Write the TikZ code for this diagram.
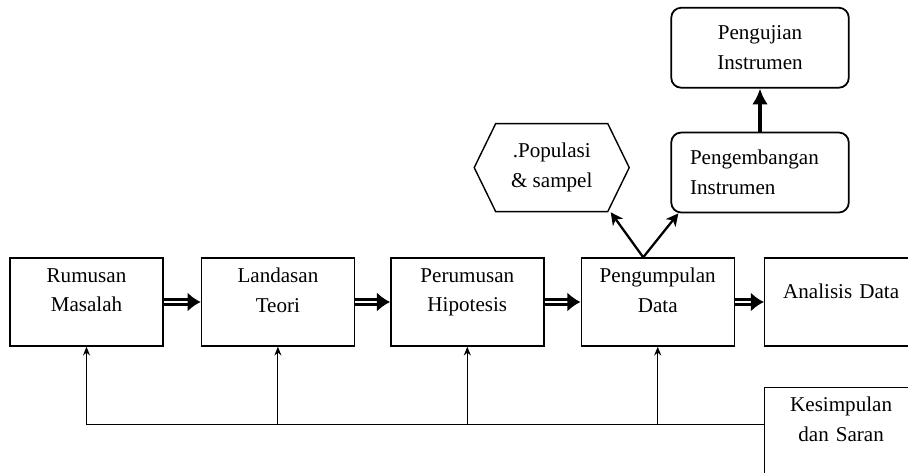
\documentclass[tikz,border=0pt]{standalone}
\usepackage{fontspec}
\setmainfont{Liberation Serif}
\usepackage{tikz}
\usetikzlibrary{positioning}
\usetikzlibrary{shapes}
\usetikzlibrary{calc}
\usetikzlibrary{arrows.meta}
\tikzset{>=latex}

\begin{document}
\begin{tikzpicture}[
            stage/.style={rectangle, draw, line width=0.8pt, text width=2.9cm, align=center, inner xsep=0.08cm, inner ysep=5.5pt, minimum height=1.76cm, text depth=30.5pt},
            hexa/.style={signal, signal to=west and east, signal pointer angle=128, draw, line width=0.8pt, minimum width=3.1cm, minimum height=1.76cm, align=center},
            rbox/.style={rectangle, rounded corners=0.2cm, draw, line width=1pt, minimum width=3.55cm, minimum height=1.6cm, text width=2.8cm, align=center},
            flow/.style={double, double distance=1.6pt, line width=1.3pt, -{Latex[length=7.5pt, width=11pt]}},
            fork/.style={line width=1.3pt, -{Stealth[length=7pt, width=7pt, inset=2pt]}},
            lift/.style={line width=2.4pt, -{Latex[length=9pt, width=9pt]}},
            back/.style={line width=0.6pt, -{Stealth[length=5pt, width=4pt]}},
            font=\fontsize{12}{17}\selectfont
        ]
        \clip (0,0) rectangle (18.16,-9.44);
        \node[stage] (rumusan) at (1.73, -6.04) {Rumusan\\Masalah};
        \node[stage, right = 0.74cm of rumusan] (landasan) {Landasan\\Teori};
        \node[stage, right = 0.70cm of landasan] (perumusan) {Perumusan\\Hipotesis};
        \node[stage, right = 0.72cm of perumusan] (pengumpulan) {Pengumpulan\\Data};
        \node[stage, right = 0.58cm of pengumpulan, text height=17pt, text depth=21.5pt] (analisis) {Analisis Data};
        \node[stage, below = 0.8cm of analisis] (kesimpulan) {Kesimpulan\\dan Saran};
        \draw[flow] (rumusan) -- (landasan);
        \draw[flow] (landasan) -- (perumusan);
        \draw[flow] (perumusan) -- (pengumpulan);
        \draw[flow] (pengumpulan) -- (analisis);
        \node[hexa, above = 0.9cm of pengumpulan, xshift=-2.12cm] (populasi) {.Populasi\\\& sampel};
        \node[rbox, align=left] (pengembangan) at (15.2, -3.45) {Pengembangan\\Instrumen};
        \node[rbox, above = 0.86cm of pengembangan] (pengujian) {Pengujian\\Instrumen};
        \coordinate (split) at ($(pengumpulan.north)+(-0.29,0)$);
        \path[fork] (split) edge ($(populasi.south)+(1.18,0)$);
        \path[fork] (split) edge ($(pengembangan.south west)+(0.16,0)$);
        \path[lift] (pengembangan) edge (pengujian);
        \coordinate (loop) at ($(kesimpulan.north west)+(0,-0.75)$);
        \draw[back] (loop) -| (rumusan.south);
        \path[back] (landasan.south |- loop) edge (landasan.south);
        \path[back] (perumusan.south |- loop) edge (perumusan.south);
        \path[back] (pengumpulan.south |- loop) edge (pengumpulan.south);
        \end{tikzpicture}
\end{document}
